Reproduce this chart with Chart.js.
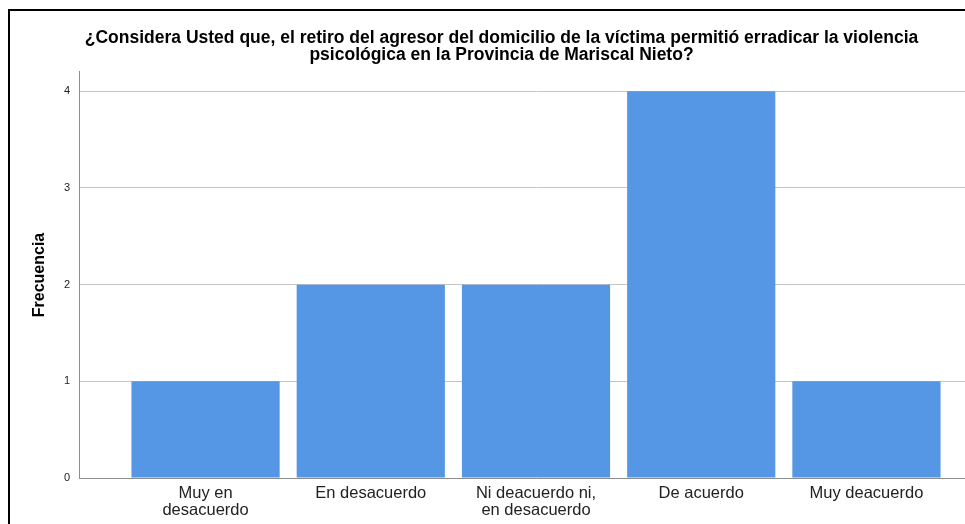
<!DOCTYPE html>
<html>
<head>
<meta charset="utf-8">
<script src="https://cdn.jsdelivr.net/npm/chart.js@4"></script>
<style>
  html, body { margin:0; padding:0; background:#fff; overflow:hidden; width:965px; height:524px; }
  #frame { position:absolute; left:8px; top:9px; border-left:2px solid #000; border-top:2px solid #000; width:1000px; height:540px; }
  #wrap { position:absolute; left:0; top:0; width:998px; height:530px; }
</style>
</head>
<body>
<div id="frame"><div id="wrap"><canvas id="c" width="998" height="530"></canvas></div></div>
<script>
const titleLines = ["¿Considera Usted que, el retiro del agresor del domicilio de la víctima permitió erradicar la violencia", "psicológica en la Provincia de Mariscal Nieto?"];
const categories = [["Muy en", "desacuerdo"], ["En desacuerdo"], ["Ni deacuerdo ni,", "en desacuerdo"], ["De acuerdo"], ["Muy deacuerdo"]];
const frecuencia = [1, 2, 2, 4, 1];
const yTicks = [0, 1, 2, 3, 4];
const yTitle = "Frecuencia";

const FONT = "'Liberation Sans', Arial, sans-serif";
const data = frecuencia.map((v, i) => ({ x: i + 1, y: v }));

new Chart(document.getElementById('c'), {
  type: 'bar',
  data: {
    datasets: [{
      data: data,
      backgroundColor: '#5596E5',
      borderWidth: 0,
      barPercentage: 0.897,
      categoryPercentage: 1.0
    }]
  },
  options: {
    responsive: false,
    animation: false,
    layout: { padding: { left: 0, right: 15, top: 0, bottom: 0 } },
    plugins: {
      legend: { display: false },
      tooltip: { enabled: false },
      title: {
        display: true,
        text: titleLines,
        color: '#000',
        font: { family: FONT, size: 17.5, weight: 'bold', lineHeight: 0.97 },
        padding: { top: 19, bottom: 8 }
      }
    },
    scales: {
      x: {
        type: 'linear',
        min: 0.234,
        max: 5.766,
        offset: false,
        grid: { display: false, drawTicks: false },
        border: { display: true, color: '#8c8c8c', width: 1 },
        afterBuildTicks: (s) => { s.ticks = categories.map((_, i) => ({ value: i + 1 })); },
        afterFit: (s) => { s.height = 63; },
        ticks: {
          autoSkip: false,
          maxRotation: 0,
          padding: 7,
          color: '#222',
          font: { family: FONT, size: 16.5, lineHeight: 1.03 },
          callback: (v) => categories[Math.round(v) - 1] || ''
        }
      },
      y: {
        min: 0,
        max: 4.2,
        grid: { color: '#c4c4c4', drawTicks: false, lineWidth: 1 },
        border: { display: true, color: '#8c8c8c', width: 1 },
        afterBuildTicks: (s) => { s.ticks = yTicks.map(v => ({ value: v })); },
        afterFit: (s) => { s.width = 69; },
        ticks: {
          padding: 9,
          color: '#222',
          font: { family: FONT, size: 11 },
          callback: (v) => String(v)
        },
        title: {
          display: true,
          text: yTitle,
          color: '#000',
          font: { family: FONT, size: 16, weight: 'bold' },
          padding: { top: 20, bottom: 0 }
        }
      }
    }
  }
});
</script>
</body>
</html>
